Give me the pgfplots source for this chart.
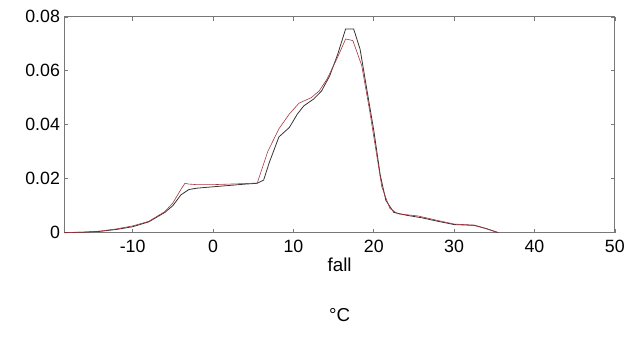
\documentclass[border=0pt]{standalone}
\usepackage{fontspec}
\setmainfont{Liberation Sans}
\usepackage{pgfplots}
\pgfplotsset{compat=1.18}
\definecolor{curvered}{RGB}{170,50,60}
\definecolor{axgray}{RGB}{120,120,120}
\begin{document}
\begin{tikzpicture}
\begin{axis}[
  scale only axis,
  width=556bp, height=218bp,
  xmin=-18.5, xmax=50, ymin=0, ymax=0.08,
  xtick={-10,0,10,20,30,40,50},
  ytick={0,0.02,0.04,0.06,0.08},
  yticklabels={0,0.02,0.04,0.06,0.08},
  xticklabels={-10,0,10,20,30,40,50},
  tick align=inside,
  major tick length=4bp,
  axis line style={axgray, line width=0.8pt},
  every tick/.style={axgray, line width=0.6pt},
  tick label style={font=\fontsize{18}{20}\selectfont},
  xticklabel style={yshift=-4bp},
  yticklabel style={xshift=-1bp},
  label style={font=\fontsize{19}{21}\selectfont},
  xlabel={fall},
  xlabel style={yshift=2bp},
  clip=false,
  scaled y ticks=false,
]
\addplot[black!80, line width=0.8pt] coordinates {
(-18.5,0) (-16,0.0002) (-14,0.0005) (-12,0.0012) (-10,0.0022) (-8,0.0040)
(-6,0.0075) (-5,0.0100) (-4,0.0140) (-3,0.0160) (-2,0.0165) (0,0.0170)
(2,0.0175) (4,0.0180) (5.5,0.0183) (6.3,0.0195) (7,0.0260) (8.2,0.0355)
(9.5,0.0390) (10.5,0.0440) (11.3,0.0470) (12.5,0.0495) (13.5,0.0525)
(14.5,0.0580) (15.5,0.0660) (16.5,0.0755) (17.5,0.0755) (18.3,0.0680)
(19.2,0.0520) (20,0.0380) (20.8,0.0215) (21.5,0.0120) (22.5,0.0075)
(24,0.0065) (26,0.0055) (28,0.0042) (30,0.0030) (32.5,0.0027) (34,0.0015) (35.5,0)
};
\addplot[curvered, line width=0.6pt] coordinates {
(-18.5,0) (-16,0.0002) (-14,0.0006) (-12,0.0014) (-10,0.0025) (-8,0.0042)
(-6,0.0078) (-5,0.0110) (-4,0.0160) (-3.5,0.0183) (-3,0.0180) (-2,0.0178)
(0,0.0178) (2,0.0180) (4,0.0182) (5.5,0.0184) (6.8,0.0300) (8.2,0.0385)
(9.5,0.0440) (10.7,0.0480) (12.2,0.0500) (13.2,0.0525) (14.2,0.0570)
(15.5,0.0650) (16.5,0.0718) (17.4,0.0712) (18.5,0.0620) (19.5,0.0450)
(20.3,0.0300) (21,0.0170) (22,0.0090) (23,0.0070) (25.5,0.0062) (28,0.0045)
(30,0.0032) (32.5,0.0028) (34,0.0015) (35.5,0)
};
\node[font=\fontsize{19}{21}\selectfont] at (rel axis cs:0.5,-0.38) {°C};
\end{axis}
\path[use as bounding box] (-65bp,-118bp) rectangle (563bp,235bp);
\end{tikzpicture}
\end{document}
